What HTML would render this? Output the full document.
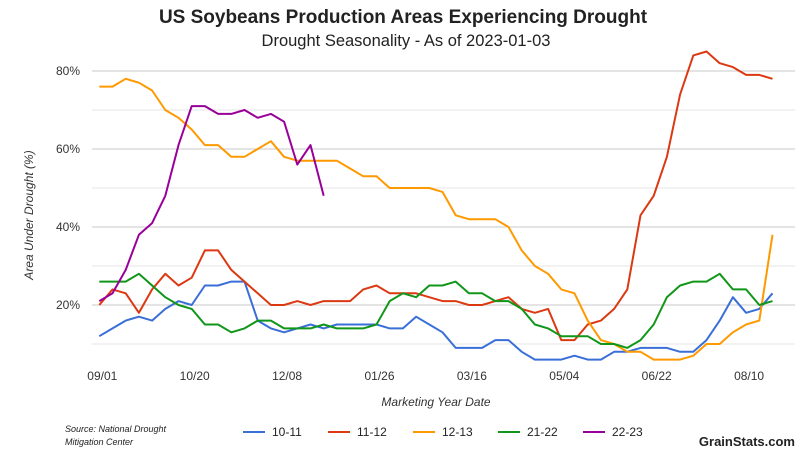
<!DOCTYPE html>
<html><head><meta charset="utf-8"><style>
body{margin:0;background:#fff;font-family:"Liberation Sans",sans-serif}
svg{display:block}
</style></head><body>
<svg id="chart" width="812" height="453" xmlns="http://www.w3.org/2000/svg" font-family="Liberation Sans, sans-serif">
<text x="403" y="23" text-anchor="middle" font-size="19" font-weight="bold" fill="#222">US Soybeans Production Areas Experiencing Drought</text>
<text x="406" y="46" text-anchor="middle" font-size="16.5" fill="#222">Drought Seasonality - As of 2023-01-03</text>
<g id="grid"></g>
<g id="yticks"></g>
<g id="xticks"></g>
<text transform="translate(33,215) rotate(-90)" text-anchor="middle" font-size="12" font-style="italic" fill="#333">Area Under Drought (%)</text>
<text x="436" y="406" text-anchor="middle" font-size="12" font-style="italic" fill="#333">Marketing Year Date</text>
<g id="series"></g>
<g id="legend"></g>
<text x="65" y="432" font-size="9" font-style="italic" fill="#222">Source: National Drought</text>
<text x="65" y="445" font-size="9" font-style="italic" fill="#222">Mitigation Center</text>
<text x="795" y="446" text-anchor="end" font-size="13" font-weight="bold" fill="#222">GrainStats.com</text>
</svg>
<script>
const xLabels=["09/01","10/20","12/08","01/26","03/16","05/04","06/22","08/10"];
const xLabelWeeks=[0,7,14,21,28,35,42,49];
const yTicks=[80,60,40,20];
const minorTicks=[70,50,30,10];
const seriesNames=["10-11","11-12","12-13","21-22","22-23"];
const seriesColors=["#3a6fd8","#dc3912","#ff9900","#109618","#990099"];
const s1011=[12,14,16,17,16,19,21,20,25,25,26,26,16,14,13,14,15,14,15,15,15,15,14,14,17,15,13,9,9,9,11,11,8,6,6,6,7,6,6,8,8,9,9,9,8,8,11,16,22,18,19,23];
const s1112=[20,24,23,18,24,28,25,27,34,34,29,26,23,20,20,21,20,21,21,21,24,25,23,23,23,22,21,21,20,20,21,22,19,18,19,11,11,15,16,19,24,43,48,58,74,84,85,82,81,79,79,78];
const s1213=[76,76,78,77,75,70,68,65,61,61,58,58,60,62,58,57,57,57,57,55,53,53,50,50,50,50,49,43,42,42,42,40,34,30,28,24,23,16,11,10,8,8,6,6,6,7,10,10,13,15,16,38];
const s2122=[26,26,26,28,25,22,20,19,15,15,13,14,16,16,14,14,14,15,14,14,14,15,21,23,22,25,25,26,23,23,21,21,19,15,14,12,12,12,10,10,9,11,15,22,25,26,26,28,24,24,20,21];
const s2223=[21,23,29,38,41,48,61,71,71,69,69,70,68,69,67,56,61,48];
const seriesData=[s1011,s1112,s1213,s2122,s2223];
const NS="http://www.w3.org/2000/svg";
const xs=i=>99.3+13.2*i;
const ys=v=>383-3.9*v;
function mk(tag,attrs,parent){const e=document.createElementNS(NS,tag);for(const k in attrs)e.setAttribute(k,attrs[k]);parent.appendChild(e);return e;}
const grid=document.getElementById('grid');
minorTicks.forEach(v=>{const l=mk('line',{x1:92,x2:795,y1:ys(v),y2:ys(v),stroke:'#e6e6e6','stroke-width':1},grid);

});
yTicks.forEach(v=>{const l=mk('line',{x1:92,x2:795,y1:ys(v),y2:ys(v),stroke:'#c8c8c8','stroke-width':1},grid);


const t=mk('text',{x:80,y:ys(v)+4,'text-anchor':'end','font-size':12,fill:'#333'},document.getElementById('yticks'));


t.textContent=v+'%';});
xLabels.forEach((lab,k)=>{const t=mk('text',{x:xs(xLabelWeeks[k])+3,y:380,'text-anchor':'middle','font-size':12,fill:'#333'},document.getElementById('xticks'));


t.textContent=lab;});
const sg=document.getElementById('series');
seriesData.forEach((d,k)=>{const p=mk('polyline',{points:d.map((v,i)=>xs(i)+','+ys(v)).join(' '),fill:'none',stroke:seriesColors[k],'stroke-width':2,'stroke-linejoin':'round'},sg);

});
const lg=document.getElementById('legend');
seriesNames.forEach((n,k)=>{const x0=243+85*k;
const g=mk('g',{},lg);


mk('line',{x1:x0,x2:x0+22,y1:432,y2:432,stroke:seriesColors[k],'stroke-width':2},g);
const t=mk('text',{x:x0+29,y:436,'font-size':12,fill:'#222'},g);
t.textContent=n;});
</script>
</body></html>
